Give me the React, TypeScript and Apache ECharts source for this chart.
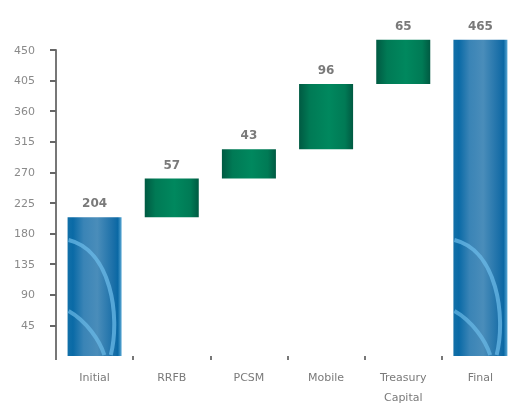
import React, { useEffect, useRef } from "react";
import * as echarts from "echarts";

const categories = ["Initial", "RRFB", "PCSM", "Mobile", "Treasury\nCapital", "Final"];
const startValue = 204;
const increments = [57, 43, 96, 65];
const totalValue = 465;
const yTicks = { min: 0, max: 450, interval: 45 };

const greenFill = {
  type: "linear", x: 0, y: 0, x2: 1, y2: 0,
  colorStops: [
    { offset: 0, color: "#005a42" },
    { offset: 0.2, color: "#007a55" },
    { offset: 0.55, color: "#00885e" },
    { offset: 0.85, color: "#007a55" },
    { offset: 1, color: "#005a42" },
  ],
};
const blueFill = {
  type: "linear", x: 0, y: 0, x2: 1, y2: 0,
  colorStops: [
    { offset: 0, color: "#1270a8" },
    { offset: 0.1, color: "#0a6aa6" },
    { offset: 0.3, color: "#3a84b6" },
    { offset: 0.55, color: "#4a8dba" },
    { offset: 0.85, color: "#1a6fa8" },
    { offset: 0.93, color: "#0a68a4" },
    { offset: 1, color: "#5aa8d4" },
  ],
};

export default function App() {
  const ref = useRef<HTMLDivElement>(null);
  useEffect(() => {
    if (!ref.current) return;
    const chart = echarts.init(ref.current, undefined, { renderer: "svg" });
    const visible = [startValue, ...increments, totalValue];
    const base: number[] = [0];
    let acc = startValue;
    increments.forEach((v) => { base.push(acc); acc += v; });
    base.push(0);
    const swooshData = [
      [0, startValue],
      [categories.length - 1, totalValue],
    ];
    const labelStyle = { show: true, position: "top", distance: 8, color: "#7a7a7a", fontSize: 12, fontWeight: "bold", fontFamily: "DejaVu Sans" };
    chart.setOption({
      animation: false,
      grid: { left: 56, top: 50, width: 463, bottom: 51, outerBoundsMode: "none", containLabel: false },
      xAxis: {
        type: "category",
        data: categories,
        axisLine: { show: false },
        axisTick: { show: true, length: 4, lineStyle: { color: "#777", width: 2 } },
        axisLabel: { color: "#7a7a7a", fontSize: 11, margin: 11, lineHeight: 20, fontFamily: "DejaVu Sans" },
      },
      yAxis: {
        type: "value",
        min: yTicks.min,
        max: yTicks.max,
        interval: yTicks.interval,
        splitLine: { show: false },
        axisLine: { show: true, lineStyle: { color: "#777", width: 2 } },
        axisTick: { show: true, length: 6, lineStyle: { color: "#666", width: 2 } },
        axisLabel: { color: "#8a8a8a", fontSize: 11, margin: 21, showMinLabel: false, fontFamily: "DejaVu Sans" },
      },
      series: [
        {
          type: "bar",
          stack: "w",
          data: base,
          itemStyle: { color: "transparent" },
          barWidth: "70%",
          silent: true,
        },
        {
          type: "bar",
          stack: "w",
          clip: false,
          barWidth: "70%",
          data: visible.map((v, i) => ({
            value: v,
            itemStyle: { color: i === 0 || i === visible.length - 1 ? blueFill : greenFill },
          })),
          label: labelStyle,
        },
        {
          type: "custom",
          clip: false,
          z: 5,
          data: swooshData,
          encode: { x: 0, y: 1 },
          renderItem: (params: any, api: any) => {
            const top = api.coord([api.value(0), api.value(1)]);
            const bottom = api.coord([api.value(0), 0]);
            const w = api.size([1, 0])[0] * 0.7;
            const x0 = top[0] - w / 2;
            const yb = bottom[1];
            return {
              type: "group",
              children: [
                {
                  type: "bezierCurve",
                  shape: { x1: x0 + 1, y1: yb - 116, cpx1: x0 + w * 0.8, cpy1: yb - 106, cpx2: x0 + w * 0.98, cpy2: yb - 40, x2: x0 + w * 0.8, y2: yb - 1 },
                  style: { stroke: "rgba(110,190,235,0.7)", lineWidth: 4, fill: null },
                },
                {
                  type: "bezierCurve",
                  shape: { x1: x0 + 1, y1: yb - 45, cpx1: x0 + w * 0.35, cpy1: yb - 35, cpx2: x0 + w * 0.6, cpy2: yb - 15, x2: x0 + w * 0.68, y2: yb - 1 },
                  style: { stroke: "rgba(110,190,235,0.65)", lineWidth: 4, fill: null },
                },
              ],
            };
          },
        },
      ],
    });
    return () => chart.dispose();
  }, []);
  return <div ref={ref} style={{ position: "fixed", left: 0, top: 0, width: 530, height: 407 }} />;
}
